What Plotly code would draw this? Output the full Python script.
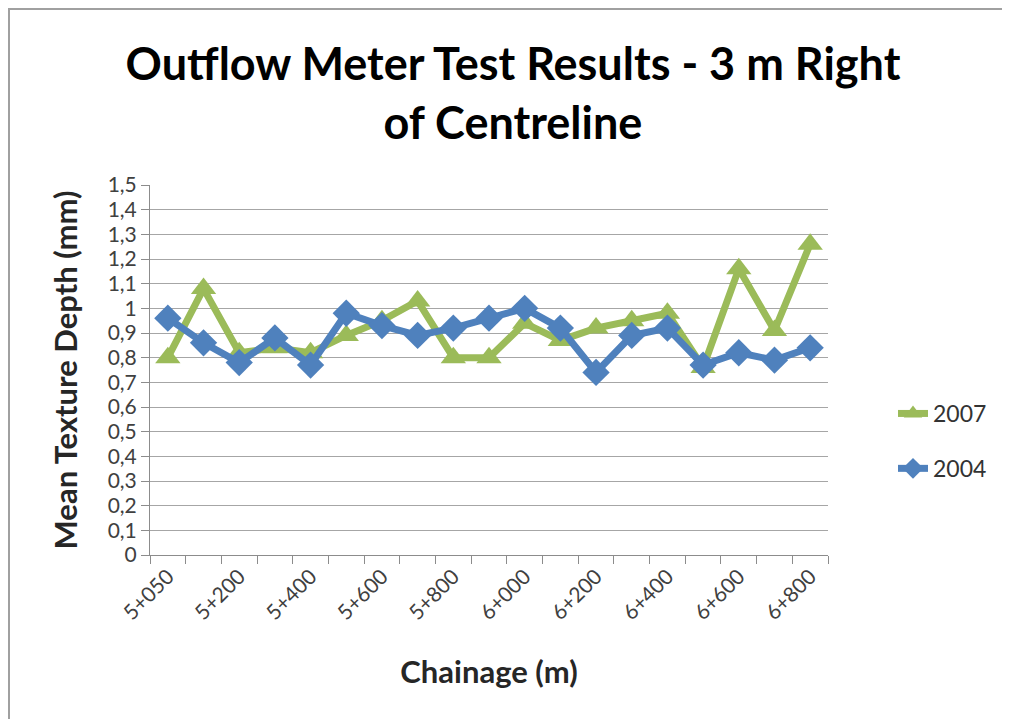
import plotly.graph_objects as go

# chainage stations (every 100 m, first one at 5+050)
chainage = ['5+050', '5+100', '5+200', '5+300', '5+400', '5+500', '5+600', '5+700',
            '5+800', '5+900', '6+000', '6+100', '6+200', '6+300', '6+400', '6+500',
            '6+600', '6+700', '6+800']
# only every other station gets a label, like the original
chainage_labels = ['5+050', '', '5+200', '', '5+400', '', '5+600', '', '5+800', '',
                   '6+000', '', '6+200', '', '6+400', '', '6+600', '', '6+800']

mtd_2007 = [0.80, 1.08, 0.82, 0.84, 0.82, 0.89, 0.95, 1.03, 0.80, 0.80,
            0.94, 0.87, 0.92, 0.95, 0.98, 0.76, 1.16, 0.91, 1.26]
mtd_2004 = [0.96, 0.86, 0.78, 0.88, 0.77, 0.98, 0.93, 0.89, 0.92, 0.96,
            1.00, 0.92, 0.74, 0.89, 0.92, 0.77, 0.82, 0.79, 0.84]

y_ticks = [0, 0.1, 0.2, 0.3, 0.4, 0.5, 0.6, 0.7, 0.8, 0.9, 1.0, 1.1, 1.2, 1.3, 1.4, 1.5]
y_labels = ['0', '0,1', '0,2', '0,3', '0,4', '0,5', '0,6', '0,7', '0,8', '0,9',
            '1', '1,1', '1,2', '1,3', '1,4', '1,5']

font = 'Lato'
# plot area in figure pixels (page adds an 8px body margin)
L, R, T, B = 142, 820, 177, 547
W, H = 1010, 719
pw, ph = R - L, B - T

fig = go.Figure()
fig.add_trace(go.Scatter(x=chainage, y=mtd_2007, name='2007', mode='lines+markers',
                         legendgroup='a',
                         line=dict(color='#9BBB59', width=7),
                         marker=dict(symbol='triangle-up', size=22, color='#9BBB59')))
fig.add_trace(go.Scatter(x=chainage, y=mtd_2004, name='2004', mode='lines+markers',
                         legendgroup='b',
                         line=dict(color='#4F81BD', width=7),
                         marker=dict(symbol='diamond', size=21, color='#4F81BD')))

fig.update_layout(
    width=W, height=H,
    margin=dict(l=L, r=W - R, t=T, b=H - B),
    paper_bgcolor='white', plot_bgcolor='white',
    title=dict(text='<b>Outflow Meter Test Results - 3 m Right<br>of Centreline</b>',
               x=0.5, xanchor='center', y=1 - 72 / H, yanchor='middle',
               font=dict(family=font, size=45, color='black')),
    font=dict(family=font, color='#333'),
    showlegend=True,
    legend=dict(x=(885 - L) / pw, y=(B - 433) / ph, xanchor='left', yanchor='middle',
                traceorder='grouped', tracegroupgap=22,
                font=dict(size=23, color='#333')),
    xaxis=dict(type='category', range=[-0.5, len(chainage) - 0.5],
               tickmode='array', tickvals=chainage, ticktext=chainage_labels,
               tickangle=-45, tickson='boundaries', ticks='outside', ticklen=8,
               tickcolor='#8C8C8C', showline=True, linecolor='#8C8C8C', linewidth=1,
               showgrid=False, tickfont=dict(size=21, color='#404040'),
               title=dict(text='<b>Chainage (m)</b>', font=dict(size=31, color='#262626'),
                          standoff=38)),
    yaxis=dict(range=[0, 1.5], tickmode='array', tickvals=y_ticks, ticktext=y_labels,
               ticks='outside', ticklen=8, tickcolor='#8C8C8C', showline=True,
               linecolor='#8C8C8C', linewidth=1, showgrid=True, gridcolor='#A6A6A6',
               gridwidth=1, zeroline=False, tickfont=dict(size=21, color='#404040'),
               title=dict(text='<b>Mean Texture Depth (mm)</b>',
                          font=dict(size=31, color='#262626'), standoff=20)),
)

# outer chart frame
fig.add_shape(type='rect', xref='paper', yref='paper',
              x0=(1 - L) / pw, x1=(997 - L) / pw,
              y0=(B - 712) / ph, y1=(B - 1) / ph,
              line=dict(color='#A0A0A0', width=2), fillcolor='rgba(0,0,0,0)', layer='below')

fig.write_html("out.html")
